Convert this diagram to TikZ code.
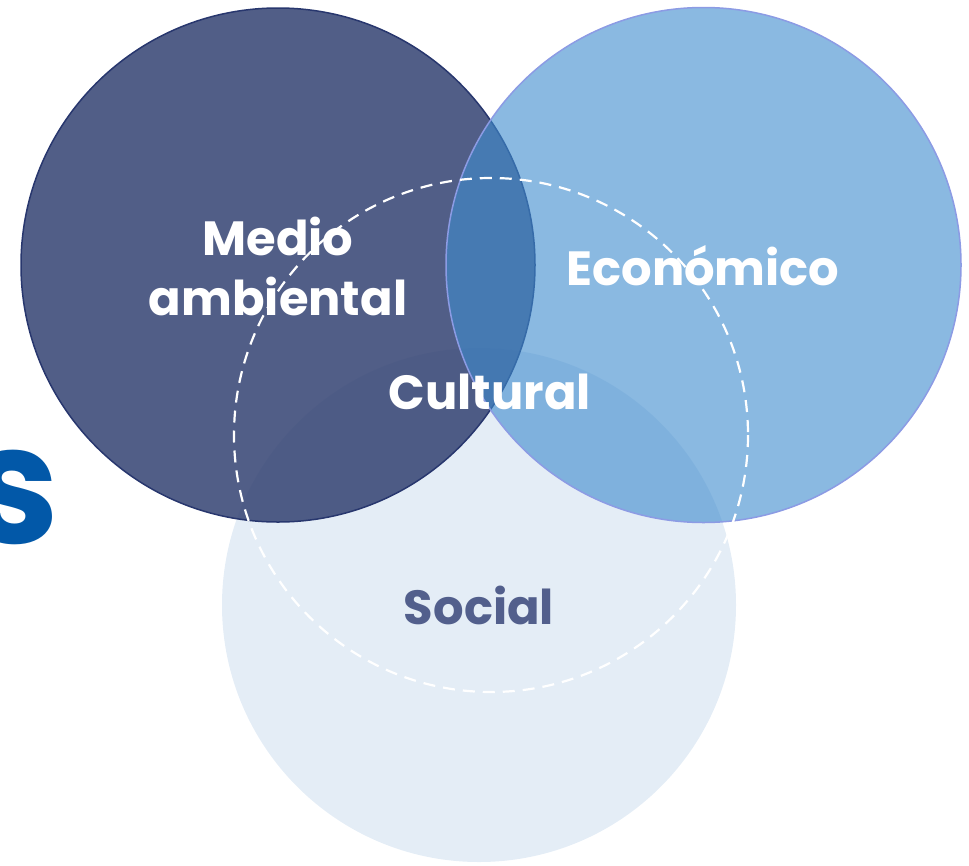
\documentclass[tikz,border=0pt]{standalone}
\usepackage{fontspec}
\setmainfont{Poppins}
\definecolor{navyfill}{RGB}{51,66,114}
\definecolor{navyedge}{RGB}{40,55,110}
\definecolor{econfill}{RGB}{63,140,206}
\definecolor{econedge}{RGB}{140,155,228}
\definecolor{socialfill}{RGB}{228,237,246}
\definecolor{socialtext}{RGB}{82,95,140}
\definecolor{titleblue}{RGB}{2,88,168}
\tikzset{
  label/.style={inner sep=0pt, font=\bfseries\fontsize{48}{60}\selectfont, text=white, align=center},
}
\begin{document}
\begin{tikzpicture}[x=1pt,y=-1pt]
\useasboundingbox (0,0) rectangle (969,865);
\clip (0,0) rectangle (969,865);
\coordinate (cs) at (479,605);
\coordinate (cm) at (278,265);
\coordinate (ce) at (703.5,265);
\coordinate (cc) at (491,435);
\fill[socialfill] (cs) circle[radius=257];
\draw[fill=navyfill, fill opacity=0.85, draw=navyedge, line width=1.5pt] (cm) circle[radius=257];
\draw[fill=econfill, fill opacity=0.61, draw=econedge, line width=1.5pt] (ce) circle[radius=257.5];
\draw[white, dash pattern=on 12pt off 8pt, line width=2.2pt] (cc) circle[radius=257];
\node[label, anchor=base] (medio) at (278,315) {Medio\\ambiental};
\node[label, anchor=base] (econ) at (703,285) {Económico};
\node[label, anchor=base] (cult) at (490,409) {Cultural};
\node[label, anchor=base, text=socialtext] (soc) at (479,624) {Social};
\node[inner sep=0pt, anchor=base east, font=\bfseries\fontsize{165}{165}\selectfont, text=titleblue] (s) at (60,543) {s};
\end{tikzpicture}
\end{document}
